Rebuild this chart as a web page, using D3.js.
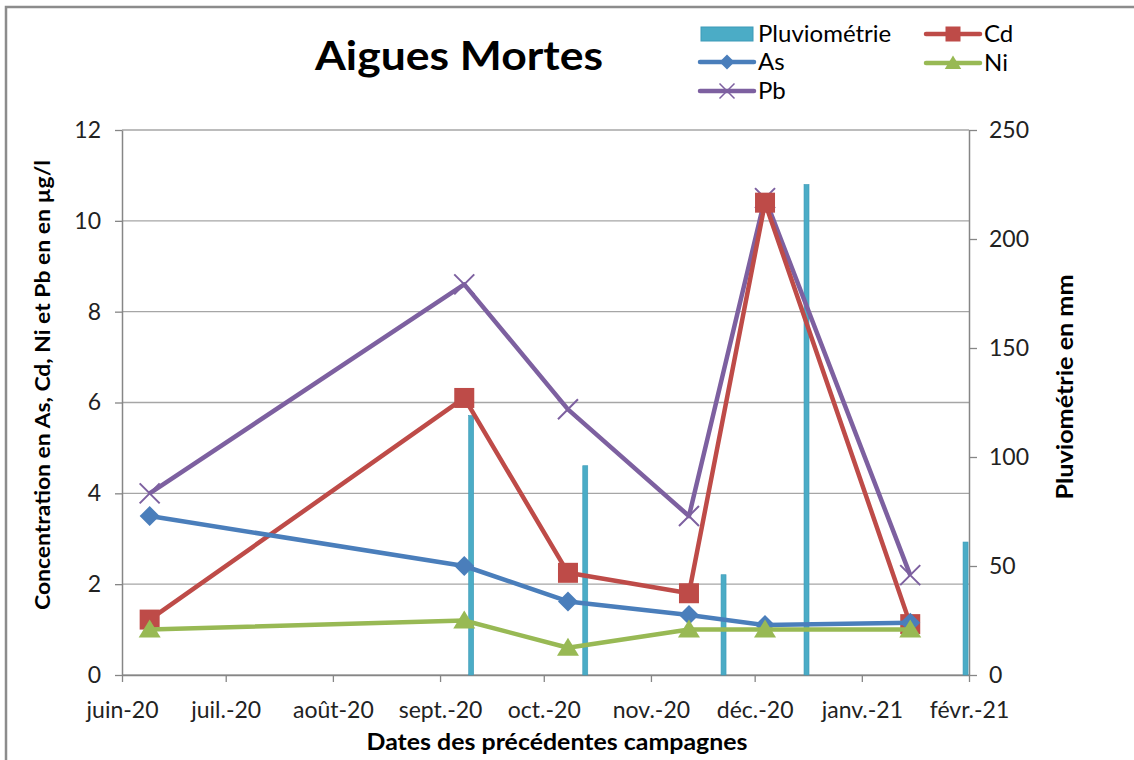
<!DOCTYPE html>
<html>
<head>
<meta charset="utf-8">
<script src="https://cdn.jsdelivr.net/npm/d3@7"></script>
<style>
  body { margin: 0; background: #fff; }
  svg text { font-family: Lato, "Open Sans", sans-serif; fill: #000; }
  .axis path, .axis line { stroke: #868686; }
  .axis text { font-size: 23px; fill: #222; }
</style>
</head>
<body>
<div class="chart"></div>
<script>
// sampling campaigns
const campaignDates = ["2020-06-09", "2020-09-08", "2020-10-08", "2020-11-12", "2020-12-04", "2021-01-15"];
const asValues = [3.5, 2.4, 1.62, 1.32, 1.1, 1.15];
const cdValues = [1.22, 6.1, 2.25, 1.8, 10.4, 1.12];
const niValues = [1.0, 1.2, 0.6, 1.0, 1.0, 1.0];
const pbValues = [4.0, 8.6, 5.85, 3.5, 10.5, 2.2];

// rainfall
const rainDates = ["2020-09-10", "2020-10-13", "2020-11-22", "2020-12-16", "2021-01-31"];
const rainValues = [119, 96, 46, 225, 61];

const monthTicks = ["2020-06-01", "2020-07-01", "2020-08-01", "2020-09-01", "2020-10-01", "2020-11-01", "2020-12-01", "2021-01-01", "2021-02-01"];
const monthLabels = ["juin-20", "juil.-20", "août-20", "sept.-20", "oct.-20", "nov.-20", "déc.-20", "janv.-21", "févr.-21"];

const W = 1134, H = 760;
const margin = { top: 130, right: 165, bottom: 85, left: 122 };
const width = W - margin.left - margin.right,
    height = H - margin.top - margin.bottom;

const parse = d3.timeParse("%Y-%m-%d");

const svg = d3.select(".chart").append("svg")
    .attr("width", W)
    .attr("height", H);

// outer frame (only left/top visible)
svg.append("path")
    .attr("d", "M6,770 L6,7 L1140,7")
    .attr("fill", "none")
    .attr("stroke", "#8c8c8c")
    .attr("stroke-width", 2.5);

const g = svg.append("g")
    .attr("transform", `translate(${margin.left},${margin.top})`);

const xScale = d3.scaleTime()
    .domain([parse(monthTicks[0]), parse(monthTicks[monthTicks.length - 1])])
    .range([0, width]);
const yScale = d3.scaleLinear().domain([0, 12]).range([height, 0]);
const y2Scale = d3.scaleLinear().domain([0, 250]).range([height, 0]);

// gridlines
g.append("g")
    .selectAll("line")
    .data(yScale.ticks(6))
    .join("line")
    .attr("x1", 0)
    .attr("x2", width)
    .attr("y1", d => yScale(d))
    .attr("y2", d => yScale(d))
    .attr("stroke", "#a6a6a6")
    .attr("stroke-width", 1.3);

// axes
const xAxis = d3.axisBottom(xScale)
    .tickValues(monthTicks.map(parse))
    .tickFormat((d, i) => monthLabels[i])
    .tickSize(7)
    .tickSizeOuter(0)
    .tickPadding(20);
g.append("g")
    .attr("class", "axis x-axis")
    .attr("transform", `translate(0,${height})`)
    .call(xAxis);

g.append("g")
    .attr("class", "axis y-axis")
    .call(d3.axisLeft(yScale).ticks(6).tickSize(7).tickSizeOuter(0).tickPadding(14));

g.append("g")
    .attr("class", "axis y2-axis")
    .attr("transform", `translate(${width},0)`)
    .call(d3.axisRight(y2Scale).ticks(5).tickSize(8).tickSizeOuter(0).tickPadding(12));

g.selectAll(".axis path").attr("stroke-width", 1.5);
g.selectAll(".axis line").attr("stroke-width", 1.3);

// rain bars
g.append("g")
    .selectAll("rect")
    .data(rainDates.map((d, i) => ({ date: parse(d), v: rainValues[i] })))
    .join("rect")
    .attr("x", d => xScale(d.date) - 2.5)
    .attr("y", d => y2Scale(d.v))
    .attr("width", 5)
    .attr("height", d => height - y2Scale(d.v))
    .attr("fill", "#4bacc6")
    .attr("stroke", "#3d9ab8")
    .attr("stroke-width", 0.6);

const series = [
    { name: "As", values: asValues, color: "#4a7ebb", marker: "diamond" },
    { name: "Cd", values: cdValues, color: "#be4b48", marker: "square" },
    { name: "Ni", values: niValues, color: "#98b954", marker: "triangle" },
    { name: "Pb", values: pbValues, color: "#7d60a0", marker: "cross" }
];
const drawOrder = ["Pb", "Cd", "As", "Ni"];

const line = d3.line()
    .x(d => xScale(d.date))
    .y(d => yScale(d.v));

function drawMarker(sel, type, color) {
    if (type === "diamond") {
        sel.append("path").attr("d", "M0,-10 L10,0 L0,10 L-10,0 Z").attr("fill", color);
    } else if (type === "square") {
        sel.append("rect").attr("x", -10).attr("y", -10).attr("width", 20).attr("height", 20).attr("fill", color);
    } else if (type === "triangle") {
        sel.append("path").attr("d", "M0,-10 L11,8 L-11,8 Z").attr("fill", color);
    } else {
        sel.append("path").attr("d", "M-10,-10 L10,10 M-10,10 L10,-10")
            .attr("stroke", color).attr("stroke-width", 2).attr("fill", "none");
    }
}

drawOrder.forEach(name => {
    const s = series.find(d => d.name === name);
    const pts = campaignDates.map((d, i) => ({ date: parse(d), v: s.values[i] }));
    g.append("path")
        .datum(pts)
        .attr("d", line)
        .attr("fill", "none")
        .attr("stroke", s.color)
        .attr("stroke-width", 4.5)
        .attr("stroke-linejoin", "round");
    g.append("g")
        .selectAll("g")
        .data(pts)
        .join("g")
        .attr("transform", d => `translate(${xScale(d.date)},${yScale(d.v)})`)
        .each(function () { drawMarker(d3.select(this), s.marker, s.color); });
});

// title
svg.append("text")
    .attr("x", 459)
    .attr("y", 70)
    .attr("text-anchor", "middle")
    .attr("textLength", 288)
    .attr("lengthAdjust", "spacingAndGlyphs")
    .style("font-size", "41px")
    .style("font-weight", "bold")
    .text("Aigues Mortes");

// axis titles
svg.append("text")
    .attr("transform", "translate(50,385) rotate(-90)")
    .attr("text-anchor", "middle")
    .attr("textLength", 450)
    .attr("lengthAdjust", "spacingAndGlyphs")
    .style("font-size", "21px")
    .style("font-weight", "bold")
    .text("Concentration en As, Cd, Ni et Pb en en µg/l");

svg.append("text")
    .attr("transform", "translate(1073,387) rotate(-90)")
    .attr("text-anchor", "middle")
    .attr("textLength", 225)
    .attr("lengthAdjust", "spacingAndGlyphs")
    .style("font-size", "23px")
    .style("font-weight", "bold")
    .text("Pluviométrie en mm");

svg.append("text")
    .attr("x", 557)
    .attr("y", 750)
    .attr("text-anchor", "middle")
    .attr("textLength", 381)
    .attr("lengthAdjust", "spacingAndGlyphs")
    .style("font-size", "22px")
    .style("font-weight", "bold")
    .text("Dates des précédentes campagnes");

// legend
const legendItems = [
    { name: "Pluviométrie", x: 700, y: 34, type: "bar", color: "#4bacc6" },
    { name: "Cd", x: 926, y: 34, type: "square", color: "#be4b48" },
    { name: "As", x: 700, y: 62, type: "diamond", color: "#4a7ebb" },
    { name: "Ni", x: 926, y: 63, type: "triangle", color: "#98b954" },
    { name: "Pb", x: 700, y: 91, type: "cross", color: "#7d60a0" }
];
const legend = svg.append("g").attr("class", "legend");
legendItems.forEach(d => {
    const item = legend.append("g").attr("transform", `translate(${d.x},${d.y})`);
    if (d.type === "bar") {
        item.append("rect").attr("x", 1).attr("y", -7).attr("width", 52).attr("height", 14)
            .attr("fill", d.color).attr("stroke", "#3d9ab8").attr("stroke-width", 1);
    } else {
        item.append("line").attr("x1", 0).attr("x2", 54).attr("y1", 0).attr("y2", 0)
            .attr("stroke", d.color).attr("stroke-width", 4.5).attr("stroke-linecap", "round");
        const m = item.append("g").attr("transform", "translate(27,0) scale(0.75)");
        drawMarker(m, d.type, d.color);
    }
    item.append("text")
        .attr("x", 58)
        .attr("y", 8)
        .style("font-size", "24px")
        .text(d.name);
});
</script>
</body>
</html>
